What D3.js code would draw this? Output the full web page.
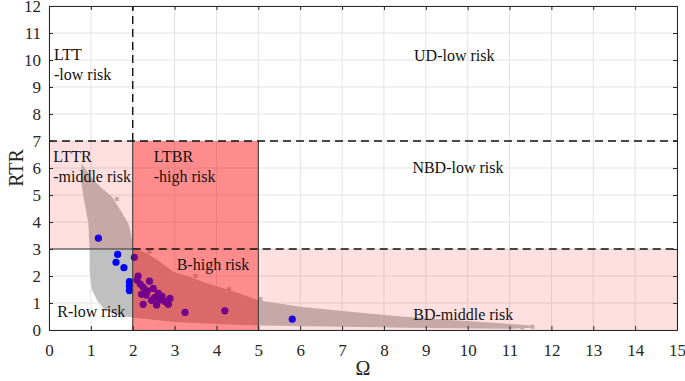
<!DOCTYPE html>
<html>
<head>
<meta charset="utf-8">
<script src="https://cdn.jsdelivr.net/npm/d3@7"></script>
</head>
<body style="margin:0;background:#fff">
<div id="chart"></div>
<script>
// gray simulation cloud, outline (x = Omega, y = RTR)
const cloudUpper = [[0.78,6.17],[0.9,5.9],[1.06,5.56],[1.3,5.2],[1.5,4.94],[1.7,4.45],[1.89,3.96],[1.97,3.5],[2.0,3.05],
  [2.33,2.85],[2.65,2.53],[2.97,2.16],[3.37,1.96],[3.77,1.73],[4.17,1.55],[4.56,1.35],[5.0,1.1],
  [6.0,0.86],[7.2,0.68],[8.4,0.5],[9.6,0.37],[10.8,0.25],[11.5,0.17],[11.55,0.08]];
const cloudLower = [[11.0,0.05],[9.0,0.07],[7.0,0.12],[5.0,0.17],[4.0,0.22],[3.0,0.3],[2.5,0.38],[2.0,0.46],
  [1.8,0.5],[1.5,0.62],[1.3,0.8],[1.15,1.1],[1.02,1.5],[0.97,2.2],[0.97,3.0],[0.94,3.96],[0.82,4.94],[0.76,5.6]];
const cloudStray = [[1.58,4.47],[1.62,4.85],[5.05,1.15],[11.3,0.1],[11.55,0.12],[3.5,2.0],[4.3,1.52],[2.4,2.9],[1.07,2.12]];

// observed cases (blue dots)
const caseX = [1.18,1.64,1.60,1.79,2.04,1.92,1.92,1.92,2.13,2.10,2.40,2.25,2.49,2.21,2.32,2.61,2.65,2.89,2.25,2.57,2.85,3.25,4.20,5.81,2.18,2.35,2.70,2.45,2.78,2.52];
const caseY = [3.40,2.80,2.51,2.31,2.69,1.79,1.63,1.46,2.00,1.85,1.81,1.58,1.54,1.32,1.30,1.36,1.11,1.17,0.95,0.93,0.95,0.65,0.71,0.40,1.70,1.45,1.25,1.10,1.05,1.20];

// risk zones
const zones = [
  {name:"LTTR", x0:0, x1:2, y0:3, y1:7, tone:"light"},
  {name:"LTBR", x0:2, x1:5, y0:0, y1:7, tone:"dark"},
  {name:"BD", x0:5, x1:15, y0:0, y1:3, tone:"light"}
];
const zoneLabels = [
  {lines:["LTT","-low risk"], x:0.12, y:10.0},
  {lines:["UD-low risk"], x:8.72, y:9.97},
  {lines:["LTTR","-middle risk"], x:0.1, y:6.22},
  {lines:["LTBR","-high risk"], x:2.5, y:6.22},
  {lines:["NBD-low risk"], x:8.68, y:5.8},
  {lines:["B-high risk"], x:3.05, y:2.22},
  {lines:["R-low risk"], x:0.2, y:0.48},
  {lines:["BD-middle risk"], x:8.7, y:0.38}
];
const xTicks = d3.range(0,16);
const yTicks = d3.range(0,13);

const W = 685, H = 381;
const m = {t:6, r:8, b:51, l:49};
const iw = W - m.l - m.r, ih = H - m.t - m.b;
const FONT = "Liberation Serif";

const x = d3.scaleLinear().domain([0,15]).range([0,iw]);
const y = d3.scaleLinear().domain([0,12]).range([ih,0]);

const svg = d3.select("#chart").append("svg").attr("width",W).attr("height",H)
  .attr("font-family",FONT);
const g = svg.append("g").attr("transform",`translate(${m.l},${m.t})`);

// grid
g.append("g").selectAll("line").data(xTicks).join("line")
  .attr("x1",d=>x(d)).attr("x2",d=>x(d)).attr("y1",0).attr("y2",ih)
  .attr("stroke","#e3e3e3").attr("stroke-width",1);
g.append("g").selectAll("line").data(yTicks).join("line")
  .attr("y1",d=>y(d)).attr("y2",d=>y(d)).attr("x1",0).attr("x2",iw)
  .attr("stroke","#e3e3e3").attr("stroke-width",1);

// cloud
const poly = cloudUpper.concat(cloudLower);
g.append("path")
  .attr("d", d3.line().x(d=>x(d[0])).y(d=>y(d[1])).curve(d3.curveLinearClosed)(poly))
  .attr("fill","#c0c0c0");
g.append("g").selectAll("rect").data(cloudStray).join("rect")
  .attr("x",d=>x(d[0])-2).attr("y",d=>y(d[1])-2).attr("width",4).attr("height",4)
  .attr("fill","#c0c0c0");

// cases
g.append("g").selectAll("circle").data(caseX).join("circle")
  .attr("cx",d=>x(d)).attr("cy",(d,i)=>y(caseY[i])).attr("r",3.6)
  .attr("fill","#0000ff");

// zones on top, translucent
g.append("g").selectAll("rect").data(zones).join("rect")
  .attr("x",d=>x(d.x0)).attr("y",d=>y(d.y1))
  .attr("width",d=>x(d.x1)-x(d.x0)).attr("height",d=>y(d.y0)-y(d.y1))
  .attr("fill","#ff0000").attr("fill-opacity",d=>d.tone==="dark"?0.45:0.12);

// boundaries
const solid = [[2,0,2,7],[5,0,5,7],[0,3,2,3]];
const dashed = [[0,7,15,7],[2,3,15,3],[2,7,2,12]];
g.append("g").selectAll("line").data(solid).join("line")
  .attr("x1",d=>x(d[0])).attr("y1",d=>y(d[1])).attr("x2",d=>x(d[2])).attr("y2",d=>y(d[3]))
  .attr("stroke","#333").attr("stroke-width",1);
g.append("g").selectAll("line").data(dashed).join("line")
  .attr("x1",d=>x(d[0])).attr("y1",d=>y(d[1])).attr("x2",d=>x(d[2])).attr("y2",d=>y(d[3]))
  .attr("stroke","#111").attr("stroke-width",1.4).attr("stroke-dasharray","8,5");

// zone labels
const lab = g.append("g").selectAll("text").data(zoneLabels).join("text")
  .attr("x",d=>x(d.x)).attr("y",d=>y(d.y))
  .attr("font-family",FONT).attr("font-size",16).attr("fill","#111");
lab.each(function(d){
  d3.select(this).selectAll("tspan").data(d.lines).join("tspan")
    .attr("x",x(d.x)).attr("dy",(t,i)=>i===0?0:20).text(t=>t);
});

// axes, MATLAB style box with inward ticks
const axB = d3.axisBottom(x).tickValues(xTicks).tickSize(-4).tickPadding(14);
const axL = d3.axisLeft(y).tickValues(yTicks).tickSize(-4).tickPadding(8);
g.append("g").attr("transform",`translate(0,${ih})`).call(axB);
g.append("g").call(axL);
g.append("g").call(d3.axisTop(x).tickValues(xTicks).tickSize(-4).tickFormat(""));
g.append("g").attr("transform",`translate(${iw},0)`).call(d3.axisRight(y).tickValues(yTicks).tickSize(-4).tickFormat(""));
g.selectAll(".domain").attr("stroke","#262626");
g.selectAll(".tick line").attr("stroke","#262626");
g.selectAll(".tick text").attr("font-family",FONT).attr("font-size",17).attr("fill","#262626");

svg.append("text").attr("x",m.l+iw/2).attr("y",375).attr("text-anchor","middle")
  .attr("font-family",FONT).attr("font-size",20).attr("fill","#262626").text("Ω");
svg.append("text").attr("transform",`translate(23,${m.t+ih/2}) rotate(-90)`)
  .attr("text-anchor","middle").attr("font-family",FONT).attr("font-size",20).attr("fill","#262626").text("RTR");
</script>
</body>
</html>
